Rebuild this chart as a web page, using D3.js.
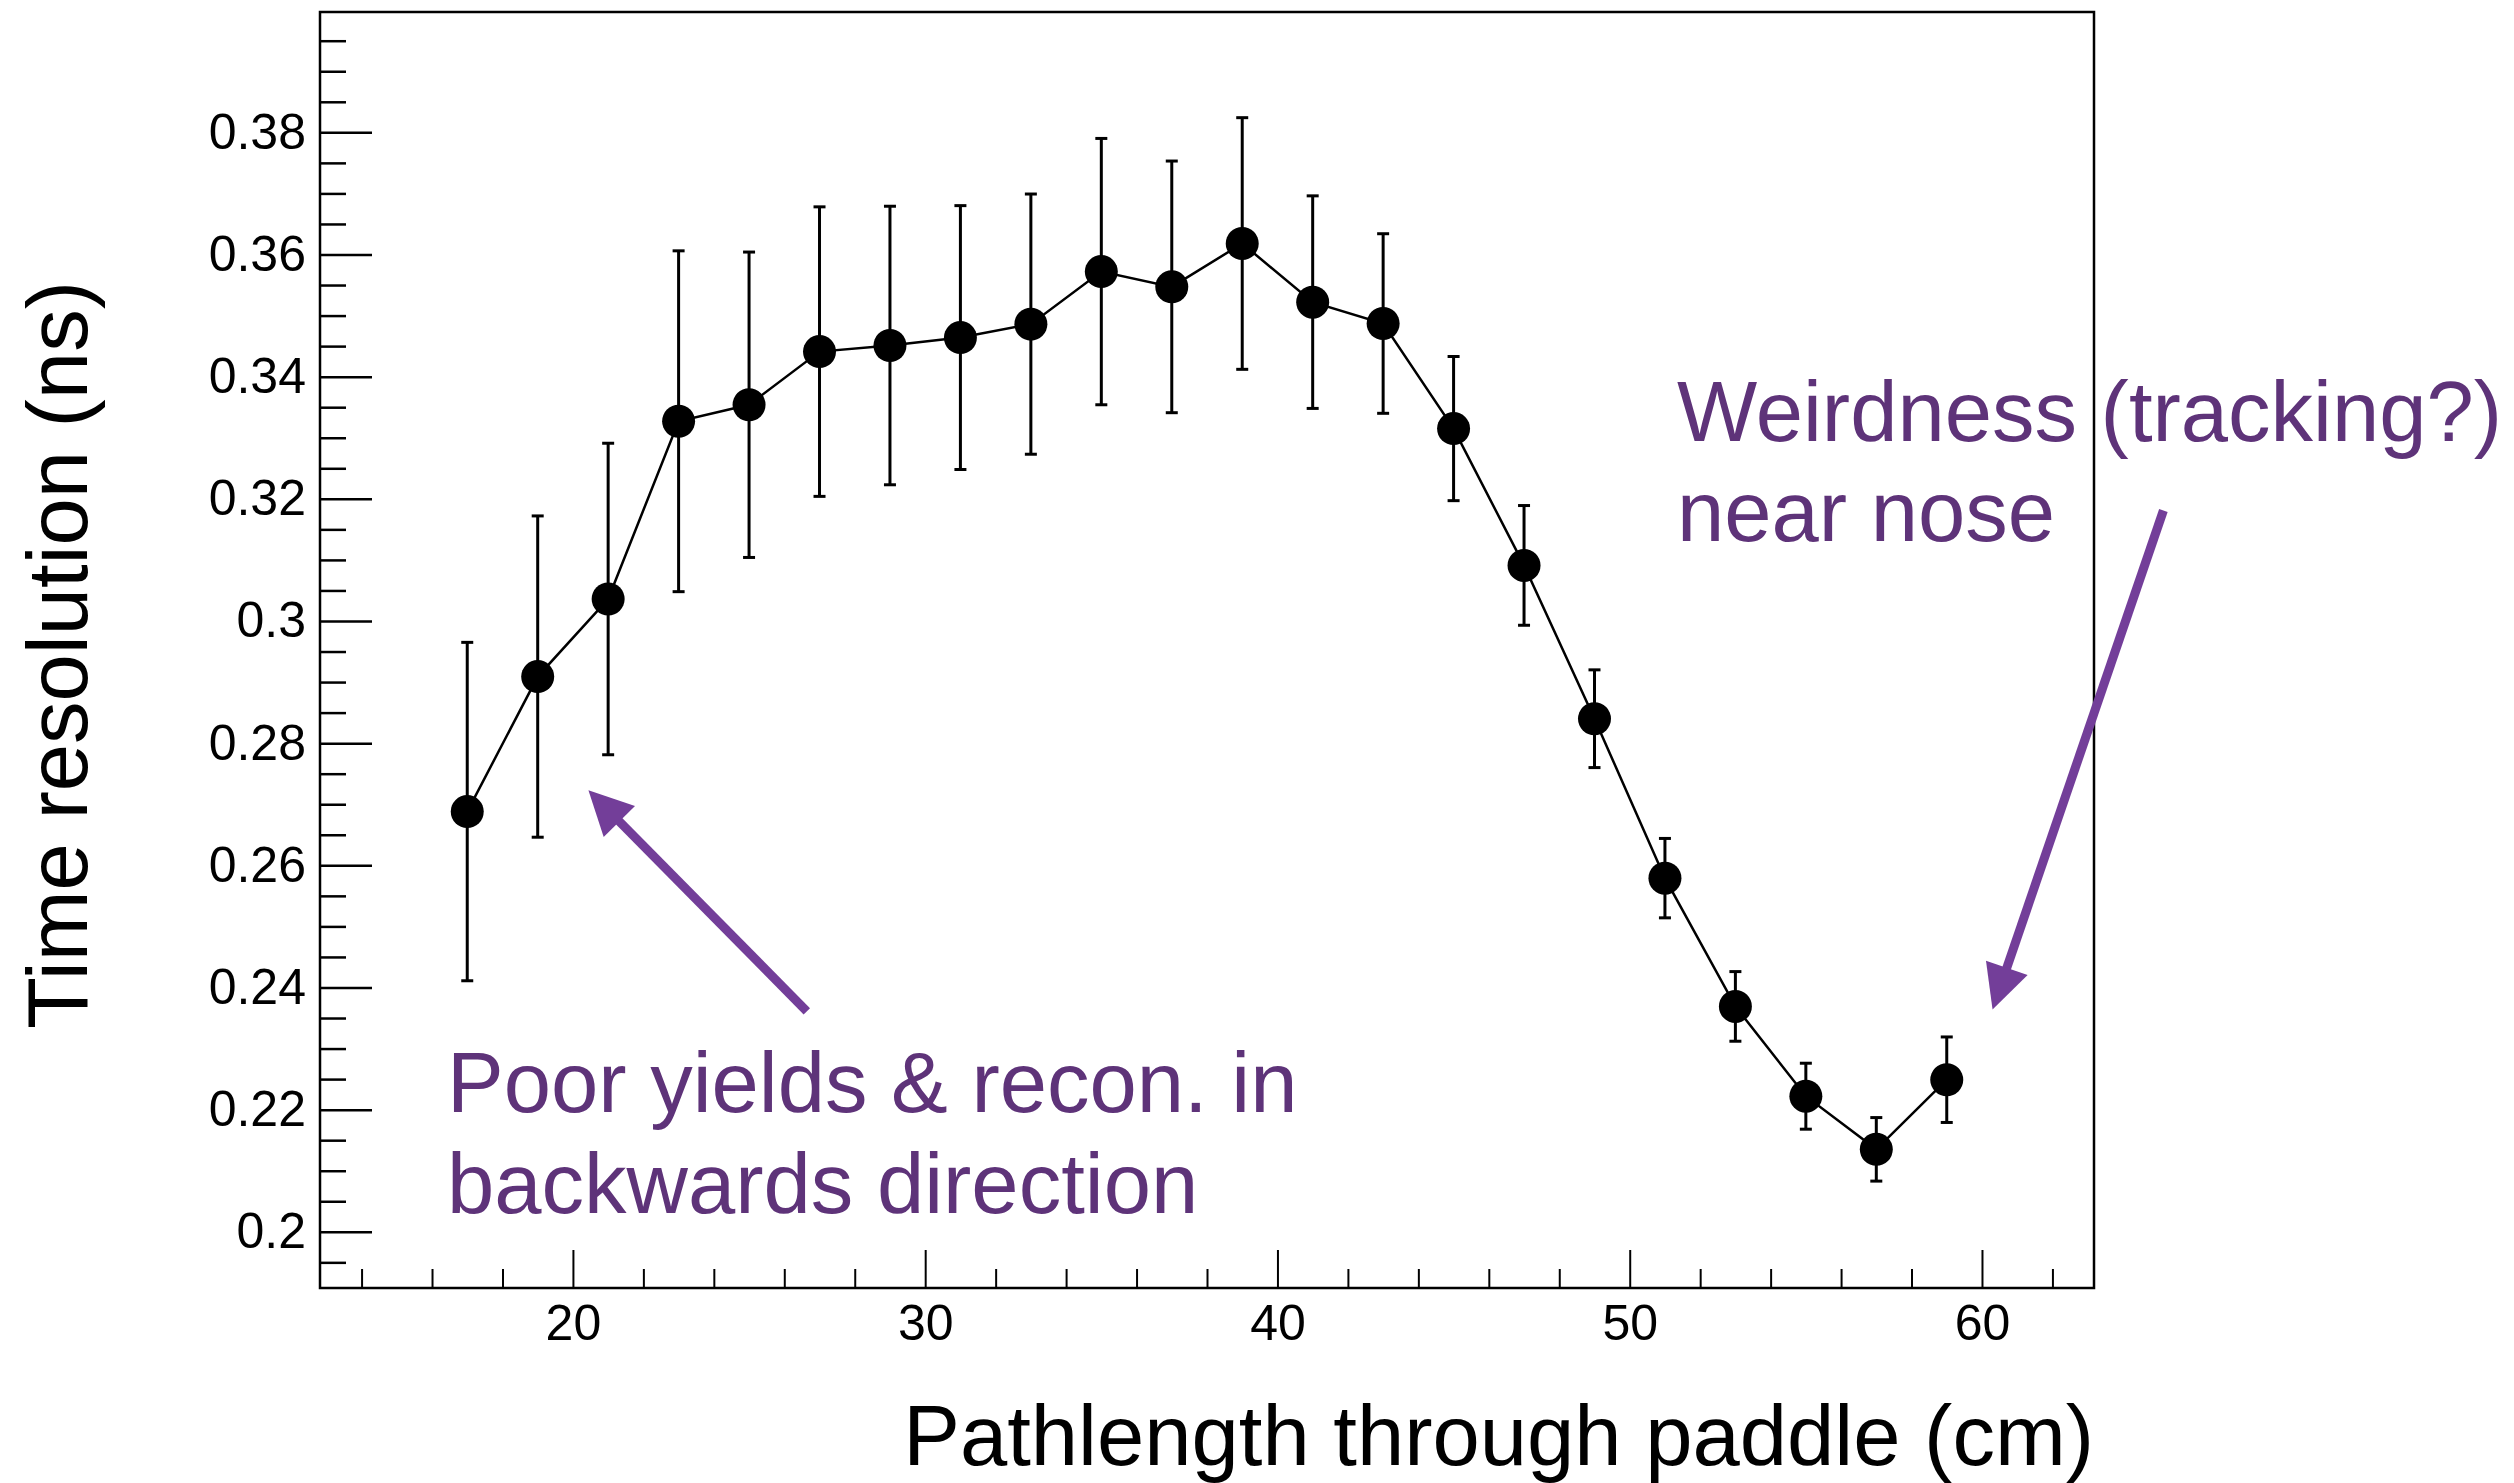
<!DOCTYPE html>
<html>
<head>
<meta charset="utf-8">
<script src="https://cdn.jsdelivr.net/npm/d3@7"></script>
<style>
  body { margin: 0; background: #fff; }
  text { font-family: "Liberation Sans", Arial, Helvetica, sans-serif; }
</style>
</head>
<body>
<script>
// pathlength bins (cm)
var pathLength = [17, 19, 21, 23, 25, 27, 29, 31, 33, 35, 37, 39, 41, 43, 45, 47, 49, 51, 53, 55, 57, 59];
// time resolution (ns) and its error
var resolution = [0.2688, 0.2909, 0.3036, 0.3327, 0.3354, 0.3441, 0.3451, 0.3464, 0.3486, 0.3572, 0.3547,
                  0.3618, 0.3522, 0.3487, 0.3315, 0.3091, 0.2840, 0.2579, 0.2369, 0.2222, 0.2135, 0.2249];
var resError = [0.0277, 0.0263, 0.0255, 0.0279, 0.0250, 0.0237, 0.0228, 0.0216, 0.0213, 0.0218, 0.0206,
                0.0206, 0.0174, 0.0147, 0.0118, 0.0098, 0.0080, 0.0065, 0.0057, 0.0054, 0.0052, 0.0070];

var xTicks = [20, 30, 40, 50, 60];
var xTickLabels = ["20", "30", "40", "50", "60"];
var yTicks = [0.20, 0.22, 0.24, 0.26, 0.28, 0.30, 0.32, 0.34, 0.36, 0.38];
var yTickLabels = ["0.2", "0.22", "0.24", "0.26", "0.28", "0.3", "0.32", "0.34", "0.36", "0.38"];

var width = 2514, height = 1483;
var margin = { top: 12, left: 320, right: 420, bottom: 195 };

var svg = d3.select("body").append("svg")
    .attr("width", width)
    .attr("height", height);

var xScale = d3.scaleLinear()
    .domain([12.82, 63.18])
    .range([margin.left, width - margin.right]);

var yScale = d3.scaleLinear()
    .domain([0.1908, 0.3997])
    .range([height - margin.bottom, margin.top]);

var plotBottom = height - margin.bottom;

// minor ticks
var xMinor = d3.range(14, 63, 2).filter(function(d) { return d % 10 !== 0; });
var yMinor = d3.range(39, 80).map(function(d) { return d * 0.005; }).filter(function(d) { return Math.abs(d * 50 - Math.round(d * 50)) > 1e-6; });

svg.append("g")
    .attr("transform", `translate(0, ${plotBottom})`)
    .call(d3.axisBottom(xScale).tickValues(xMinor).tickSize(-19).tickFormat(""))
    .call(function(g) { g.select(".domain").remove(); g.selectAll("line").attr("stroke-width", 2); });

svg.append("g")
    .attr("transform", `translate(${margin.left}, 0)`)
    .call(d3.axisLeft(yScale).tickValues(yMinor).tickSize(-26).tickFormat(""))
    .call(function(g) { g.select(".domain").remove(); g.selectAll("line").attr("stroke-width", 2.5); });

// major ticks + labels
svg.append("g")
    .attr("transform", `translate(0, ${plotBottom})`)
    .call(d3.axisBottom(xScale).tickValues(xTicks).tickSize(-38).tickPadding(16)
        .tickFormat(function(d, i) { return xTickLabels[i]; }))
    .call(function(g) {
        g.select(".domain").remove();
        g.selectAll("line").attr("stroke-width", 2);
        g.selectAll("text").attr("font-size", 50).attr("fill", "#000")
            .style("font-family", "'Liberation Sans', Arial, sans-serif");
    });

svg.append("g")
    .attr("transform", `translate(${margin.left}, 0)`)
    .call(d3.axisLeft(yScale).tickValues(yTicks).tickSize(-52).tickPadding(14)
        .tickFormat(function(d, i) { return yTickLabels[i]; }))
    .call(function(g) {
        g.select(".domain").remove();
        g.selectAll("line").attr("stroke-width", 2.5);
        g.selectAll("text").attr("font-size", 50).attr("fill", "#000")
            .style("font-family", "'Liberation Sans', Arial, sans-serif");
    });

// frame
svg.append("rect")
    .attr("x", margin.left)
    .attr("y", margin.top)
    .attr("width", width - margin.right - margin.left)
    .attr("height", plotBottom - margin.top)
    .attr("fill", "none")
    .attr("stroke", "#000")
    .attr("stroke-width", 2.5);

// axis titles
svg.append("text")
    .attr("x", width - margin.right)
    .attr("y", 1465)
    .attr("text-anchor", "end")
    .attr("font-size", 85)
    .text("Pathlength through paddle (cm)");

svg.append("text")
    .attr("transform", "translate(87, 655) rotate(-90)")
    .attr("text-anchor", "middle")
    .attr("font-size", 85)
    .text("Time resolution (ns)");

// data
var points = pathLength.map(function(x, i) {
    return { x: x, y: resolution[i], e: resError[i] };
});

var line = d3.line()
    .x(function(d) { return xScale(d.x); })
    .y(function(d) { return yScale(d.y); });

svg.append("path")
    .datum(points)
    .attr("d", line)
    .attr("fill", "none")
    .attr("stroke", "#000")
    .attr("stroke-width", 2.5);

var bars = svg.append("g").attr("stroke", "#000").attr("stroke-width", 3);
bars.selectAll(".err")
    .data(points)
    .enter().append("line")
    .attr("x1", function(d) { return xScale(d.x); })
    .attr("x2", function(d) { return xScale(d.x); })
    .attr("y1", function(d) { return yScale(d.y - d.e); })
    .attr("y2", function(d) { return yScale(d.y + d.e); });

[-1, 1].forEach(function(s) {
    bars.selectAll(".cap" + s)
        .data(points)
        .enter().append("line")
        .attr("x1", function(d) { return xScale(d.x) - 6; })
        .attr("x2", function(d) { return xScale(d.x) + 6; })
        .attr("y1", function(d) { return yScale(d.y + s * d.e); })
        .attr("y2", function(d) { return yScale(d.y + s * d.e); });
});

svg.selectAll(".marker")
    .data(points)
    .enter().append("circle")
    .attr("cx", function(d) { return xScale(d.x); })
    .attr("cy", function(d) { return yScale(d.y); })
    .attr("r", 16.5)
    .attr("fill", "#000");

// annotations
var textPurple = "#5e3379";
var arrowPurple = "#733e99";

function arrow(x0, y0, x1, y1) {
    var ax = xScale(x0), ay = yScale(y0), bx = xScale(x1), by = yScale(y1);
    var len = Math.hypot(bx - ax, by - ay);
    var ux = (bx - ax) / len, uy = (by - ay) / len;
    var hl = 44, hw = 22;
    var mx = bx - ux * hl, my = by - uy * hl;
    svg.append("line")
        .attr("x1", ax).attr("y1", ay)
        .attr("x2", mx + ux * 4).attr("y2", my + uy * 4)
        .attr("stroke", arrowPurple)
        .attr("stroke-width", 9);
    svg.append("path")
        .attr("d", `M${bx},${by}L${mx - uy * hw},${my + ux * hw}L${mx + uy * hw},${my - ux * hw}Z`)
        .attr("fill", arrowPurple);
}

arrow(26.64, 0.2361, 20.44, 0.2723);
arrow(65.15, 0.3181, 60.30, 0.2364);

var noteLeft = svg.append("text")
    .attr("font-size", 85)
    .attr("fill", textPurple);
noteLeft.append("tspan").attr("x", 447).attr("y", 1112).text("Poor yields & recon. in");
noteLeft.append("tspan").attr("x", 447).attr("y", 1213).text("backwards direction");

var noteRight = svg.append("text")
    .attr("font-size", 85)
    .attr("fill", textPurple);
noteRight.append("tspan").attr("x", 1677).attr("y", 441).text("Weirdness (tracking?)");
noteRight.append("tspan").attr("x", 1677).attr("y", 541).text("near nose");
</script>
</body>
</html>
